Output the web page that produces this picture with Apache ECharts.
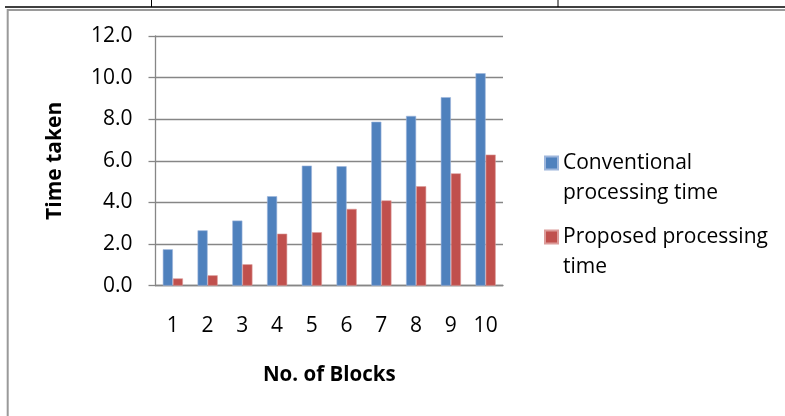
<!DOCTYPE html>
<html>
<head>
<meta charset="utf-8">
<script src="https://cdn.jsdelivr.net/npm/echarts@6/dist/echarts.min.js"></script>
<style>
html,body{margin:0;padding:0;background:#fff;}
#chart{width:785px;height:416px;}
</style>
</head>
<body>
<div id="chart"></div>
<script>
const categories = ['1','2','3','4','5','6','7','8','9','10'];
const conventional = [1.75, 2.66, 3.13, 4.30, 5.77, 5.74, 7.88, 8.16, 9.06, 10.21];
const proposed = [0.35, 0.50, 1.03, 2.50, 2.57, 3.69, 4.10, 4.78, 5.40, 6.30];
const seriesNames = ['Conventional processing time', 'Proposed processing time'];
const legendLabels = ['Conventional\nprocessing time', 'Proposed processing\ntime'];
const yTicks = { min: 0, max: 12, interval: 2 };

const FONT = 'Open Sans';
const chart = echarts.init(document.getElementById('chart'));

function legendFor(i, top) {
  return {
    orient: 'vertical',
    left: 544,
    top: top,
    padding: 0,
    itemWidth: 13,
    itemHeight: 13,
    itemGap: 0,
    icon: 'rect',
    data: [seriesNames[i]],
    formatter: () => ' \n' + legendLabels[i],
    textStyle: { fontFamily: FONT, fontSize: 21, color: '#000', lineHeight: 30 }
  };
}

chart.setOption({
  animation: false,
  legend: [legendFor(0, 118), legendFor(1, 192)],
  grid: { left: 155.5, right: 282, top: 36, bottom: 130.3, containLabel: false },
  xAxis: {
    type: 'category',
    data: categories,
    name: 'No. of Blocks',
    nameLocation: 'middle',
    nameGap: 78,
    nameTextStyle: { fontFamily: FONT, fontSize: 20.5, fontWeight: 'bold', color: '#000', lineHeight: 22 },
    axisLine: { lineStyle: { color: '#868686', width: 1.3 } },
    axisTick: { show: false },
    axisLabel: { fontFamily: FONT, fontSize: 21, color: '#000', margin: 30, lineHeight: 21 }
  },
  yAxis: {
    type: 'value',
    min: yTicks.min, max: yTicks.max, interval: yTicks.interval,
    name: 'Time taken',
    nameLocation: 'middle',
    nameGap: 90,
    nameTextStyle: { fontFamily: FONT, fontSize: 21, fontWeight: 'bold', color: '#000' },
    axisLine: { show: true, lineStyle: { color: '#868686', width: 1.3 } },
    axisTick: { show: true, length: 7, lineStyle: { color: '#868686', width: 1.3 } },
    splitLine: { lineStyle: { color: '#868686', width: 1.3 } },
    axisLabel: { fontFamily: FONT, fontSize: 21, color: '#000', margin: 23, formatter: v => v.toFixed(1) }
  },
  series: [
    {
      name: seriesNames[0], type: 'bar', data: conventional,
      barGap: '0%', barCategoryGap: '42%',
      itemStyle: { color: '#4F81BD', borderColor: '#9DB6DC', borderWidth: 0.6 }
    },
    {
      name: seriesNames[1], type: 'bar', data: proposed,
      itemStyle: { color: '#C0504D', borderColor: '#DC9C9A', borderWidth: 0.6 }
    }
  ],
  graphic: [
    { type: 'line', shape: { x1: 5, y1: 7, x2: 785, y2: 7 }, style: { stroke: '#000', lineWidth: 1.5 } },
    { type: 'line', shape: { x1: 151.5, y1: 0, x2: 151.5, y2: 7 }, style: { stroke: '#000', lineWidth: 1 } },
    { type: 'line', shape: { x1: 558, y1: 0, x2: 558, y2: 7 }, style: { stroke: '#000', lineWidth: 1 } },
    { type: 'line', shape: { x1: 7, y1: 10, x2: 785, y2: 10 }, style: { stroke: '#9a9a9a', lineWidth: 2 } },
    { type: 'line', shape: { x1: 7.7, y1: 9, x2: 7.7, y2: 416 }, style: { stroke: '#9a9a9a', lineWidth: 2 } }
  ]
});
</script>
</body>
</html>
